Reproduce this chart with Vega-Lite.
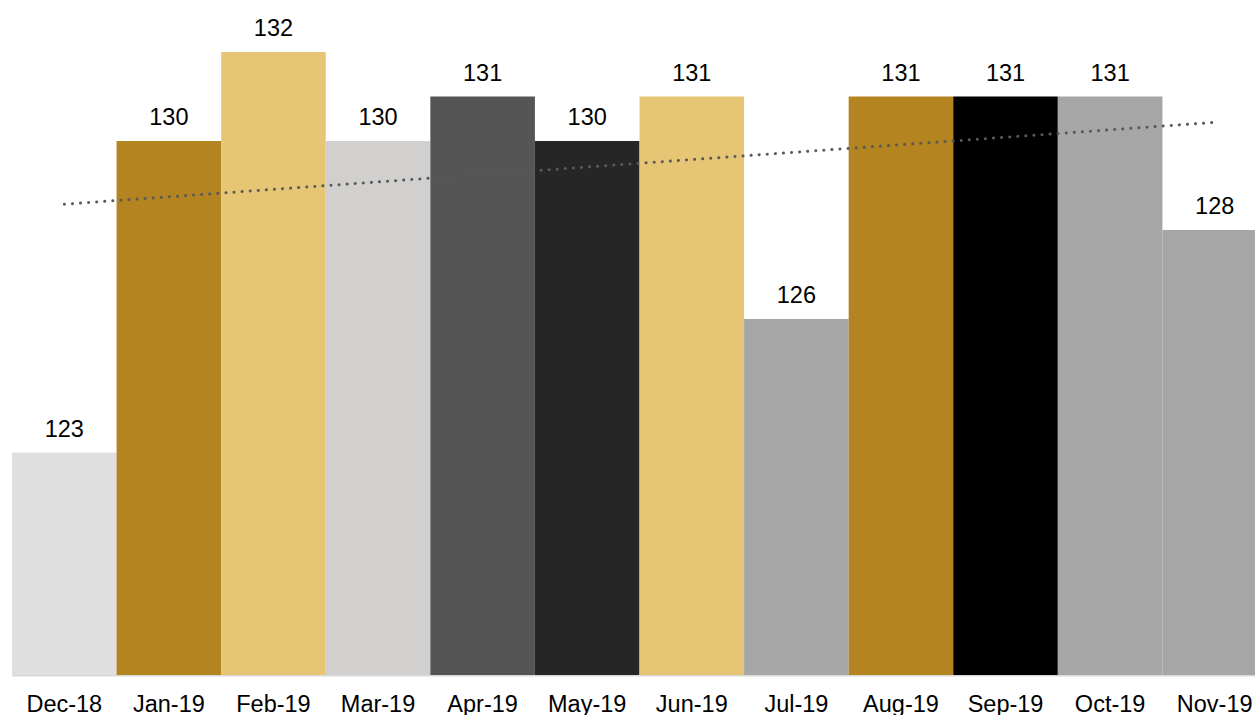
{
  "$schema": "https://vega.github.io/schema/vega-lite/v6.json",
  "autosize": {"type": "none"},
  "width": 1255,
  "height": 675,
  "padding": {"left": 0, "top": 0, "right": 0, "bottom": 40},
  "background": "white",
  "config": {"view": {"stroke": null}},
  "datasets": {
    "bars": [
      {"month": "Dec-18", "value": 123},
      {"month": "Jan-19", "value": 130},
      {"month": "Feb-19", "value": 132},
      {"month": "Mar-19", "value": 130},
      {"month": "Apr-19", "value": 131},
      {"month": "May-19", "value": 130},
      {"month": "Jun-19", "value": 131},
      {"month": "Jul-19", "value": 126},
      {"month": "Aug-19", "value": 131},
      {"month": "Sep-19", "value": 131},
      {"month": "Oct-19", "value": 131},
      {"month": "Nov-19", "value": 128}
    ],
    "trend": [
      {"month": "Dec-18", "trend": 128.58},
      {"month": "Nov-19", "trend": 130.42}
    ]
  },
  "encoding": {
    "x": {
      "field": "month",
      "type": "nominal",
      "sort": ["Dec-18","Jan-19","Feb-19","Mar-19","Apr-19","May-19","Jun-19","Jul-19","Aug-19","Sep-19","Oct-19","Nov-19"],
      "scale": {
        "domain": ["Dec-18","Jan-19","Feb-19","Mar-19","Apr-19","May-19","Jun-19","Jul-19","Aug-19","Sep-19","Oct-19","Nov-19"],
        "range": [12, 1267],
        "paddingInner": 0,
        "paddingOuter": 0
      },
      "axis": {
        "title": null,
        "labelAngle": 0,
        "ticks": false,
        "domainColor": "#d9d9d9",
        "domainWidth": 2,
        "labelFont": "Liberation Sans",
        "labelFontSize": 23.5,
        "labelColor": "#000000",
        "labelPadding": 17
      }
    }
  },
  "layer": [
    {
      "data": {"name": "bars"},
      "mark": {"type": "bar", "clip": true, "stroke": null, "strokeWidth": 0},
      "encoding": {
        "y": {
          "field": "value",
          "type": "quantitative",
          "scale": {"domain": [118, 133.17], "zero": false, "nice": false},
          "axis": null
        },
        "color": {
          "field": "month",
          "type": "nominal",
          "scale": {
            "domain": ["Dec-18","Jan-19","Feb-19","Mar-19","Apr-19","May-19","Jun-19","Jul-19","Aug-19","Sep-19","Oct-19","Nov-19"],
            "range": ["#dfdfdf","#b38420","#e6c574","#d1d0ce","#555555","#262626","#e6c574","#a6a6a6","#b38420","#000000","#a6a6a6","#a6a6a6"]
          },
          "legend": null
        }
      }
    },
    {
      "data": {"name": "bars"},
      "mark": {"type": "text", "font": "Liberation Sans", "fontSize": 23.5, "color": "#000000", "baseline": "alphabetic", "dy": -16},
      "encoding": {
        "y": {"field": "value", "type": "quantitative"},
        "text": {"field": "value", "type": "quantitative"}
      }
    },
    {
      "data": {"name": "trend"},
      "mark": {"type": "line", "color": "#595959", "strokeWidth": 3, "strokeDash": [0.1, 8], "strokeCap": "round"},
      "encoding": {
        "y": {"field": "trend", "type": "quantitative"}
      }
    }
  ]
}
